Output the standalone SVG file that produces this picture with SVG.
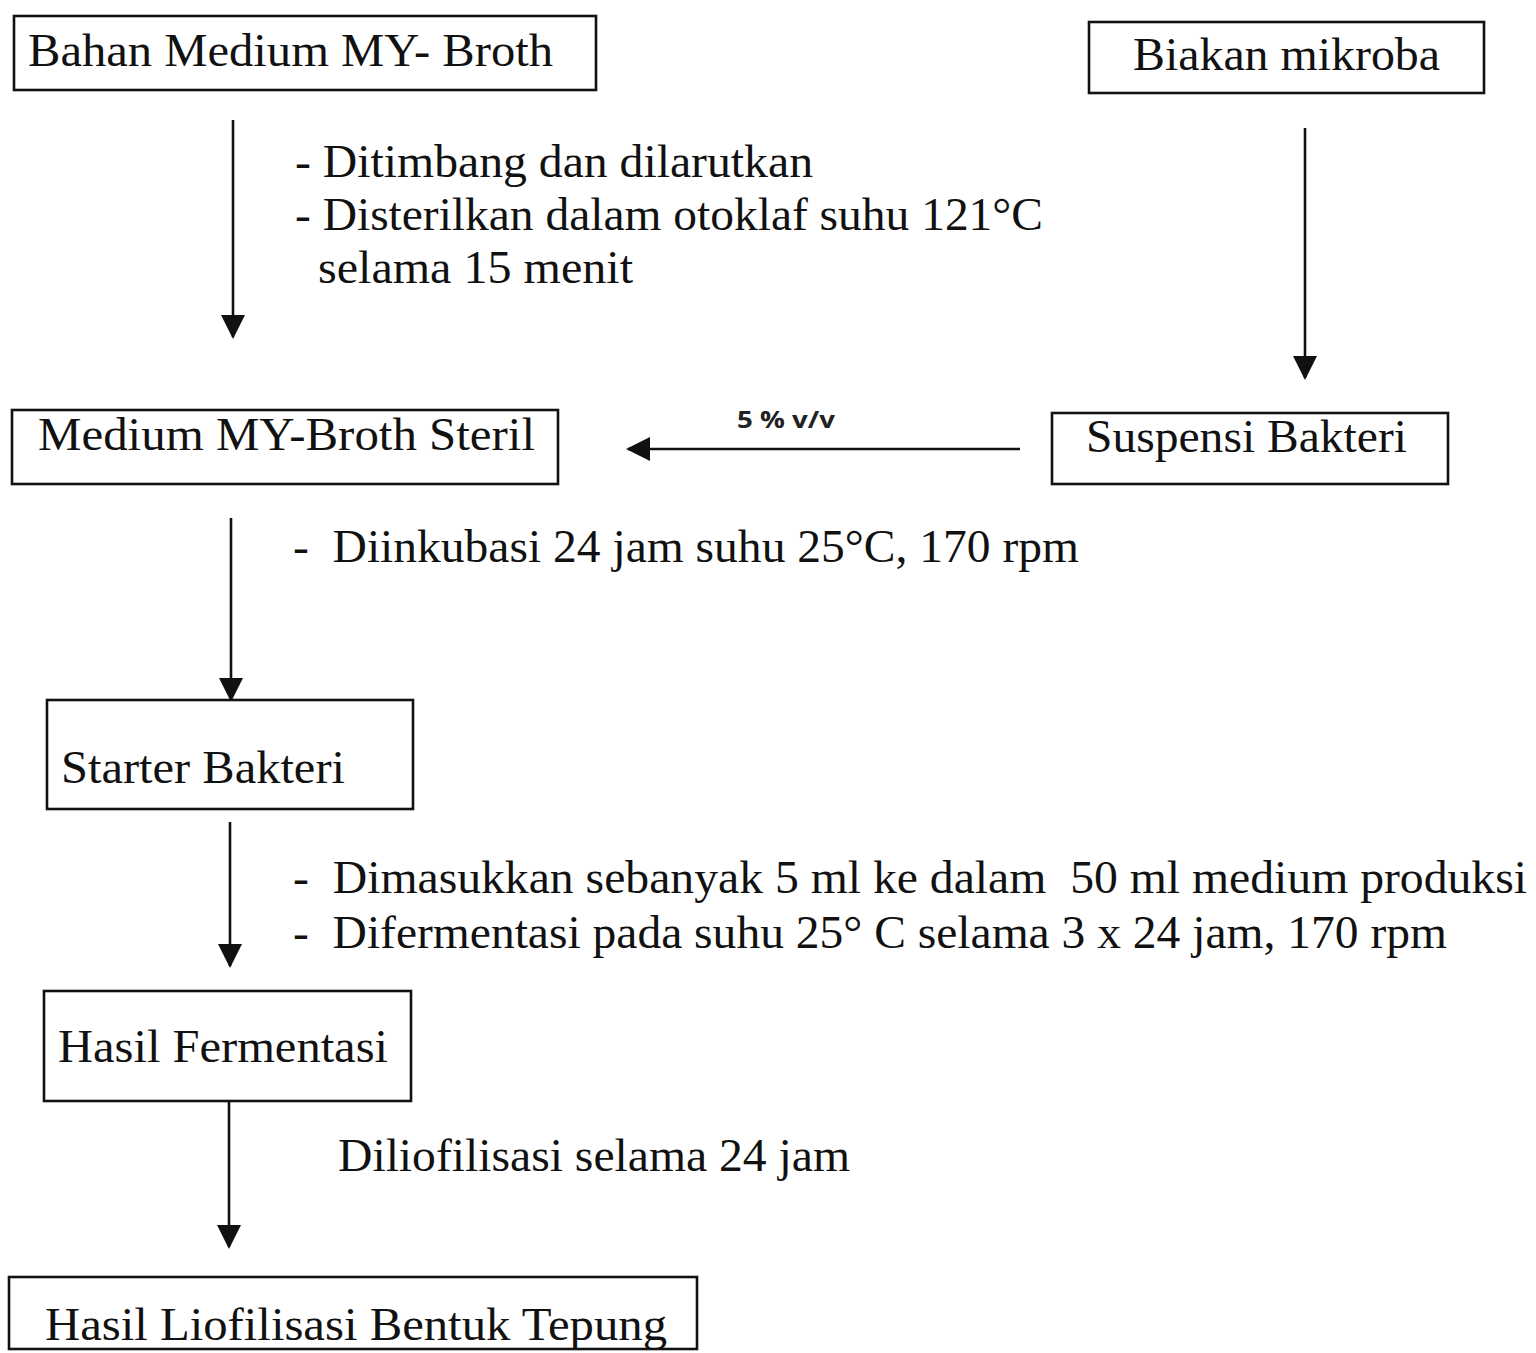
<svg xmlns="http://www.w3.org/2000/svg" width="1536" height="1353" viewBox="0 0 1536 1353">
<defs>
<style>
.box{fill:#fff;stroke:#111;stroke-width:2.6}
.t{font-family:"Liberation Serif","Times New Roman",serif;font-size:47px;fill:#111;white-space:pre}
.s{font-family:"Open Sans","Liberation Sans",sans-serif;font-size:23px;font-weight:bold;fill:#222}
.ln{stroke:#111;stroke-width:2.6;fill:none}
</style>
<marker id="ah" viewBox="0 0 24 24" refX="22" refY="12" markerWidth="24" markerHeight="24" markerUnits="userSpaceOnUse" orient="auto">
<path d="M0,0 L24,12 L0,24 Z" fill="#111"/>
</marker>
</defs>
<rect width="1536" height="1353" fill="#fff"/>
<g id="connectors">
<line class="ln" x1="233" y1="120" x2="233" y2="337" marker-end="url(#ah)"/>
<line class="ln" x1="1305" y1="128" x2="1305" y2="378" marker-end="url(#ah)"/>
<line class="ln" x1="1020" y1="449" x2="628" y2="449" marker-end="url(#ah)"/>
<line class="ln" x1="231" y1="518" x2="231" y2="700" marker-end="url(#ah)"/>
<line class="ln" x1="230" y1="822" x2="230" y2="966" marker-end="url(#ah)"/>
<line class="ln" x1="229" y1="1101" x2="229" y2="1247" marker-end="url(#ah)"/>
<text class="t" x="295" y="177" textLength="518" lengthAdjust="spacingAndGlyphs">- Ditimbang dan dilarutkan</text>
<text class="t" x="295" y="230" textLength="748" lengthAdjust="spacingAndGlyphs">- Disterilkan dalam otoklaf suhu 121°C</text>
<text class="t" x="318" y="283" textLength="315" lengthAdjust="spacingAndGlyphs">selama 15 menit</text>
<text class="s" x="737" y="428" textLength="98" lengthAdjust="spacingAndGlyphs">5 % v/v</text>
<text class="t" x="293" y="562" textLength="786" lengthAdjust="spacingAndGlyphs" xml:space="preserve">-  Diinkubasi 24 jam suhu 25°C, 170 rpm</text>
<text class="t" x="293" y="893" textLength="1234" lengthAdjust="spacingAndGlyphs" xml:space="preserve">-  Dimasukkan sebanyak 5 ml ke dalam  50 ml medium produksi</text>
<text class="t" x="293" y="948" textLength="1154" lengthAdjust="spacingAndGlyphs" xml:space="preserve">-  Difermentasi pada suhu 25° C selama 3 x 24 jam, 170 rpm</text>
<text class="t" x="338" y="1171" textLength="512" lengthAdjust="spacingAndGlyphs">Diliofilisasi selama 24 jam</text>
</g>
<g id="n1">
<rect class="box" x="14" y="16" width="582" height="74"/>
<text class="t" x="28" y="66" textLength="525" lengthAdjust="spacingAndGlyphs">Bahan Medium MY- Broth</text>
</g>
<g id="n2">
<rect class="box" x="1089" y="22" width="395" height="71"/>
<text class="t" x="1133" y="70" textLength="307" lengthAdjust="spacingAndGlyphs">Biakan mikroba</text>
</g>
<g id="n3">
<rect class="box" x="12" y="410" width="546" height="74"/>
<text class="t" x="38" y="450" textLength="497" lengthAdjust="spacingAndGlyphs">Medium MY-Broth Steril</text>
</g>
<g id="n4">
<rect class="box" x="1052" y="413" width="396" height="71"/>
<text class="t" x="1086" y="452" textLength="321" lengthAdjust="spacingAndGlyphs">Suspensi Bakteri</text>
</g>
<g id="n5">
<rect class="box" x="47" y="700" width="366" height="109"/>
<text class="t" x="61" y="783" textLength="284" lengthAdjust="spacingAndGlyphs">Starter Bakteri</text>
</g>
<g id="n6">
<rect class="box" x="44" y="991" width="367" height="110"/>
<text class="t" x="58" y="1062" textLength="330" lengthAdjust="spacingAndGlyphs">Hasil Fermentasi</text>
</g>
<g id="n7">
<rect class="box" x="9" y="1277" width="688" height="72"/>
<text class="t" x="45" y="1340" textLength="622" lengthAdjust="spacingAndGlyphs">Hasil Liofilisasi Bentuk Tepung</text>
</g>
</svg>
